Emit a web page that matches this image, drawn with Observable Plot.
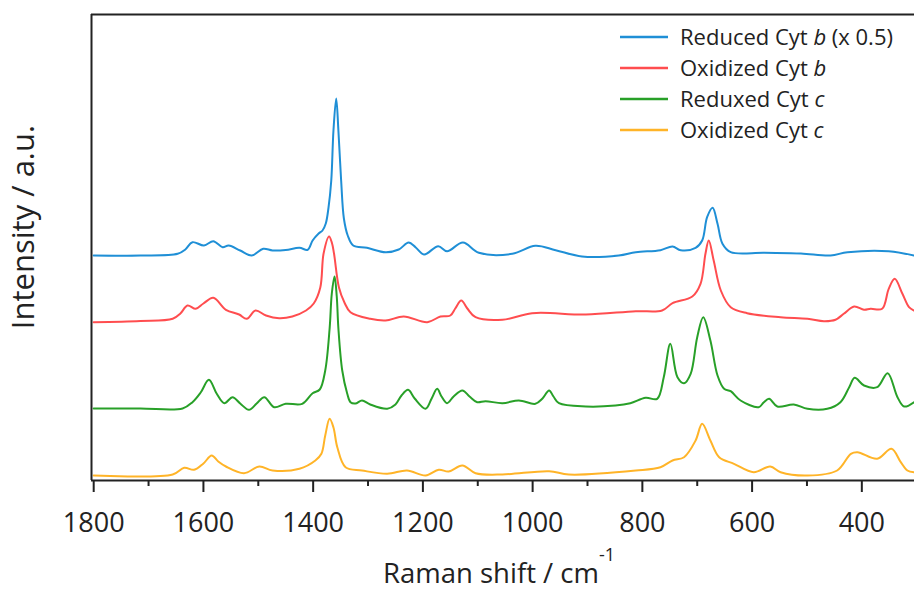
<!DOCTYPE html>
<html>
<head>
<meta charset="utf-8">
<script src="https://cdn.jsdelivr.net/npm/d3@7"></script>
<script src="https://cdn.jsdelivr.net/npm/@observablehq/plot@0.6"></script>
<style>
  body { margin: 0; background: #fff; }
  #chart svg { display: block; font-family: "Open Sans", sans-serif; }
</style>
</head>
<body>
<div id="chart"></div>
<script>
// Raman spectra of cytochromes: [Raman shift (cm^-1), intensity (a.u.)] per spectrum.
const reducedCytB = [
  [1800,0],[1715,0],[1647,1.7],[1633,6],[1620,13.3],[1599,10],[1582,14.3],[1565,8.3],[1554,10],
  [1533,5],[1512,0],[1491,6.7],[1474,5],[1450,5.5],[1425,7.7],[1410,5.7],[1401,15],[1390,22],
  [1383,25],[1377,32],[1372,48],[1367,75],[1363,125],[1358,157],[1354,125],[1349,75],[1344,37],
  [1337,20],[1327,10],[1302,7.7],[1268,3.3],[1244,6],[1226,13],[1213,8],[1198,1],[1172,9.3],
  [1156,4.3],[1127,13],[1098,2.7],[1037,1.7],[995,9.7],[958,5.3],[910,-1],[843,0],[812,3.3],
  [767,5.3],[745,9],[730,5.3],[703,7.7],[691,15],[682,38.3],[672,47.7],[663,31.7],[654,11.7],
  [639,3.3],[578,2.7],[511,2],[457,0],[426,3.3],[351,4.3],[305,0]
];
const oxidizedCytB = [
  [1800,0.3],[1715,1.5],[1656,3.7],[1642,9],[1629,17],[1614,13.7],[1600,19],[1582,24.7],[1559,12.7],
  [1535,8],[1521,3.7],[1505,12],[1486,7],[1462,4.3],[1438,6],[1413,12],[1399,19],[1387,35],
  [1381,69],[1371,86],[1366,80],[1362,69],[1353,35],[1343,20],[1332,10.3],[1296,3.7],[1268,2],
  [1235,6],[1192,0.3],[1168,6],[1150,7],[1141,14],[1130,22],[1119,14],[1104,5.3],[1055,2.7],
  [1001,9.3],[903,8],[812,11.3],[764,12],[745,19.3],[709,26],[694,38.7],[685,68.7],[679,82],
  [670,62],[657,32],[639,15.3],[609,9.3],[548,5.3],[499,3.7],[469,1.3],[448,2.7],[433,8.7],
  [414,16],[396,12.7],[384,13.7],[363,13.7],[351,33.7],[340,43.7],[326,28.7],[314,15.3],[305,12]
];
const reducedCytC = [
  [1800,0],[1715,0],[1638,0],[1620,6.3],[1605,16],[1590,28.7],[1576,15],[1562,5.3],[1547,11.3],
  [1533,5],[1517,-1.3],[1503,5],[1489,11.3],[1471,1.3],[1450,4.7],[1420,4.7],[1401,15.3],[1388,19],
  [1378,38],[1370,80],[1366,115],[1361,132],[1357,112],[1354,80],[1347,38],[1338,15],[1332,6.3],
  [1323,5],[1311,8],[1296,4],[1265,-0.3],[1250,4],[1239,13],[1227,18.7],[1215,10],[1195,-0.3],
  [1184,10],[1174,19.7],[1166,12],[1156,5.3],[1144,12],[1128,18],[1115,12],[1101,6.3],[1086,7.3],
  [1055,5.3],[1025,8],[995,4.7],[982,10],[970,18],[962,12],[952,5.3],[903,2],[849,3],[822,5.3],
  [794,10.7],[773,9.7],[761,31.3],[749,64.7],[736,31.3],[724,25.3],[712,34.7],[700,71.3],[689,91.3],
  [676,68],[663,33],[651,19.7],[639,17.3],[621,8],[588,1.3],[579,6],[569,9.7],[554,2],[524,4],
  [499,-0.3],[463,-0.3],[439,6.3],[423,21.3],[413,30.7],[396,23],[372,21.3],[353,35.3],[335,11.3],
  [323,2],[305,6.3]
];
const oxidizedCytC = [
  [1800,0],[1656,1],[1635,7.7],[1617,5.7],[1600,12],[1585,20],[1573,14],[1559,9],[1526,2.3],
  [1498,9],[1474,5],[1425,6.7],[1396,15],[1385,21.7],[1378,40],[1370,56.7],[1363,48],[1356,28.3],
  [1341,8.3],[1311,5],[1265,1.7],[1229,5],[1195,0],[1171,5.7],[1153,4],[1128,10],[1104,2.3],
  [1055,1],[970,4.3],[934,1],[812,5],[767,8.3],[745,15],[724,18.3],[703,35],[691,51.7],[676,35],
  [660,18.3],[633,11.7],[597,3.3],[567,9],[548,3.3],[499,0],[445,5],[420,21.7],[408,23.3],
  [372,16.7],[346,26.7],[329,13.3],[317,5],[305,3.3]
];

const seriesNames = ["Reduced Cyt b (x 0.5)", "Oxidized Cyt b", "Reduxed Cyt c", "Oxidized Cyt c"];
const seriesData = [reducedCytB, oxidizedCytB, reducedCytC, oxidizedCytC];
const seriesOffsets = [226, 159, 73, 6];          // vertical stacking of the spectra
const seriesColors = ["#1f8fd6", "#ff4d4f", "#28a028", "#ffb428"];
const legendPrefix = ["Reduced Cyt ", "Oxidized Cyt ", "Reduxed Cyt ", "Oxidized Cyt "];
const legendItalic = ["b", "b", "c", "c"];
const legendSuffix = [" (x 0.5)", "", "", ""];
const majorTicks = [1800, 1600, 1400, 1200, 1000, 800, 600, 400];
const minorTicks = [1700, 1500, 1300, 1100, 900, 700, 500, 300];

const rows = seriesData.flatMap((spectrum, i) =>
  spectrum.map(([shift, value]) => ({series: seriesNames[i], shift, intensity: value + seriesOffsets[i]}))
);

const ink = "#222";
const chart = Plot.plot({
  width: 914,
  height: 592,
  marginLeft: 91,
  marginRight: 0,
  marginTop: 14,
  marginBottom: 112,
  x: {domain: [1804, 304], axis: null, label: null},
  y: {domain: [1, 467], axis: null, label: null},
  color: {domain: seriesNames, range: seriesColors},
  marks: [
    Plot.line(rows, {x: "shift", y: "intensity", z: "series", stroke: "series", strokeWidth: 2, curve: "catmull-rom"}),
    Plot.ruleY([1, 467], {stroke: ink, strokeWidth: 2}),
    Plot.ruleX([1804], {stroke: ink, strokeWidth: 2}),
    Plot.axisX(minorTicks, {tickSize: 6, tickFormat: () => "", stroke: ink, strokeWidth: 2, label: null}),
    Plot.axisX(majorTicks, {tickSize: 12, tickPadding: 20, tickFormat: "d", fontSize: 27, stroke: ink, strokeWidth: 2, fill: ink, label: null})
  ]
});

const svg = d3.select(chart);

// x-axis title with superscript unit
const xTitle = svg.append("text")
  .attr("x", 383).attr("y", 583)
  .attr("text-anchor", "start")
  .attr("font-size", 27.5).attr("fill", ink);
xTitle.append("tspan").text("Raman shift / cm");
xTitle.append("tspan").attr("dy", -22).attr("font-size", 18).text("-1");

// y-axis title
svg.append("text")
  .attr("transform", "translate(34,227) rotate(-90)")
  .attr("text-anchor", "middle")
  .attr("font-size", 31).attr("fill", ink)
  .text("Intensity / a.u.");

// legend
const legend = svg.append("g").attr("text-anchor", "start");
seriesNames.forEach((name, i) => {
  const y = 37 + i * 31;
  legend.append("line")
    .attr("x1", 620).attr("x2", 668).attr("y1", y).attr("y2", y)
    .attr("stroke", seriesColors[i]).attr("stroke-width", 2.5);
  const t = legend.append("text")
    .attr("x", 680).attr("y", y).attr("dy", "0.36em")
    .attr("font-size", 22).attr("fill", ink);
  t.append("tspan").text(legendPrefix[i]);
  t.append("tspan").attr("font-style", "italic").text(legendItalic[i]);
  if (legendSuffix[i]) t.append("tspan").text(legendSuffix[i]);
});

document.getElementById("chart").append(chart);
</script>
</body>
</html>
